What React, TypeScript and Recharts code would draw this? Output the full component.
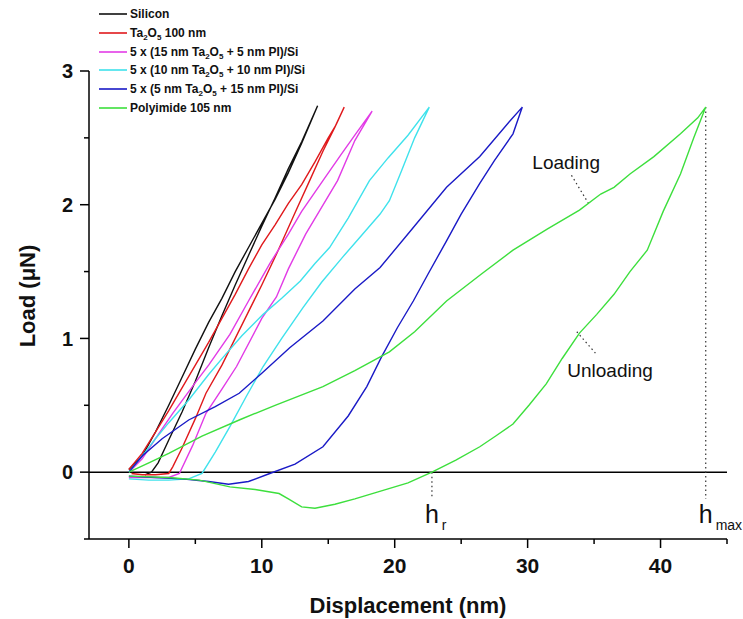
import React from "react";
import {
  LineChart,
  Line,
  XAxis,
  YAxis,
  ReferenceLine,
  ReferenceDot,
} from "recharts";

// [displacement nm, load µN]: loading branch then unloading branch
const siliconLoad = [[0,0.02],[1,0.12],[2,0.3],[3,0.5],[4,0.71],[5,0.92],[6,1.12],[7,1.3],[8,1.5],[9,1.68],[10,1.86],[11,2.04],[12,2.24],[13,2.46],[14.2,2.74]];
const siliconUnload = [[14.2,2.74],[13,2.47],[12,2.27],[11,2.05],[10,1.84],[9,1.62],[8,1.4],[7,1.17],[6,0.93],[5,0.68],[4,0.45],[3,0.24],[2.2,0.07],[1.7,0],[1.2,-0.02]];

const taLoad = [[0,0.02],[1,0.14],[2,0.3],[3,0.46],[4,0.63],[5,0.8],[6,0.97],[7,1.15],[8,1.33],[9,1.52],[10,1.7],[11,1.85],[12,2.01],[13,2.15],[14,2.32],[15,2.5],[15.6,2.6],[16.2,2.73]];
const taUnload = [[16.2,2.73],[15.5,2.58],[14.6,2.4],[13.6,2.18],[12.5,1.94],[11.1,1.63],[10,1.4],[9,1.2],[8,1],[7,0.8],[5.8,0.59],[5,0.4],[4,0.18],[3.3,0.04],[3,-0.01],[2,-0.02],[1,-0.02],[0.2,-0.01]];

const ml15Load = [[0,0],[1,0.1],[2,0.25],[3.3,0.44],[5,0.67],[6,0.8],[7.6,1.03],[9,1.28],[10.6,1.56],[12,1.78],[13,1.95],[14.6,2.18],[16,2.38],[17,2.52],[18.3,2.7]];
const ml15Unload = [[18.3,2.7],[17,2.48],[15.7,2.18],[14.5,1.98],[13.3,1.78],[12,1.52],[11.1,1.31],[10,1.15],[8.1,0.79],[7,0.62],[5.8,0.44],[4.8,0.2],[3.8,-0.01],[3,-0.04],[2,-0.04],[1,-0.04],[0,-0.04]];

const ml10Load = [[0,0],[1,0.12],[2,0.25],[3,0.37],[4.5,0.54],[6,0.73],[7.1,0.86],[8.5,1.02],[10.1,1.18],[11.5,1.3],[12.9,1.43],[14,1.56],[15.1,1.68],[16.5,1.9],[18.1,2.18],[19.5,2.35],[21,2.52],[22.6,2.73]];
const ml10Unload = [[22.6,2.73],[21.5,2.5],[20.5,2.25],[19.6,2.03],[18.9,1.93],[17.5,1.77],[16.1,1.61],[14.5,1.42],[13.1,1.23],[11.5,1],[10.1,0.79],[8.8,0.56],[7.6,0.34],[6.5,0.15],[5.5,-0.01],[4.5,-0.05],[3,-0.06],[1.5,-0.06],[0,-0.05]];

const ml5Load = [[0,0],[1,0.12],[2.5,0.25],[4.5,0.39],[6.5,0.49],[8.3,0.59],[10,0.74],[12.1,0.93],[14.6,1.13],[17,1.37],[18.9,1.53],[21.4,1.83],[23.9,2.13],[26.4,2.36],[28.7,2.63],[29.6,2.73]];
const ml5Unload = [[29.6,2.73],[28.9,2.53],[27.5,2.33],[26.4,2.16],[25,1.93],[23.9,1.73],[22.5,1.48],[21.4,1.28],[20.2,1.08],[19,0.86],[17.9,0.64],[16.5,0.42],[14.6,0.19],[12.5,0.06],[10.6,-0.01],[9,-0.07],[7.5,-0.09],[6,-0.07],[4,-0.05],[2,-0.04],[0,-0.03]];

const piLoad = [[0,0],[1.5,0.07],[3,0.14],[5.5,0.27],[8.3,0.39],[11,0.5],[14.6,0.64],[17,0.76],[19.6,0.9],[21.5,1.05],[23.9,1.28],[26.5,1.48],[28.9,1.66],[31.5,1.82],[33.9,1.96],[35.5,2.08],[36.5,2.13],[37.7,2.23],[39.5,2.36],[41.5,2.53],[42.8,2.65],[43.4,2.73]];
const piUnload = [[43.4,2.73],[42.5,2.5],[41.5,2.23],[40.2,1.95],[39,1.66],[37.7,1.5],[36.5,1.33],[35.2,1.18],[33.9,1.04],[32.6,0.85],[31.4,0.66],[30.1,0.5],[28.9,0.36],[27.6,0.27],[26.4,0.19],[24.6,0.09],[22.8,0],[21,-0.08],[19,-0.14],[17,-0.2],[15.5,-0.24],[14,-0.27],[13,-0.26],[12,-0.2],[11.3,-0.16],[9.5,-0.13],[7.6,-0.11],[5.3,-0.06],[3,-0.04],[0,-0.03]];

const xTicks = [0, 5, 10, 15, 20, 25, 30, 35, 40, 45];
const yTicks = [-0.5, 0, 0.5, 1, 1.5, 2, 2.5, 3];

const hr = 22.8;
const hmax = 43.4;

const FONT = "'Liberation Sans', Arial, sans-serif";

const toPts = (a, b) => [...a, ...b].map(([x, y]) => ({ x, y }));

const series = [
  { name: "Silicon", color: "#111111", data: toPts(siliconLoad, siliconUnload) },
  { name: "ta", color: "#e0191c", data: toPts(taLoad, taUnload) },
  { name: "ml15", color: "#e23be6", data: toPts(ml15Load, ml15Unload) },
  { name: "ml10", color: "#3fe2ec", data: toPts(ml10Load, ml10Unload) },
  { name: "ml5", color: "#1a1ac6", data: toPts(ml5Load, ml5Unload) },
  { name: "pi", color: "#3ddf3d", data: toPts(piLoad, piUnload) },
];

const Sub = ({ children }) => (
  <sub style={{ fontSize: 8, verticalAlign: "-3px", lineHeight: 0 }}>{children}</sub>
);

const legendLabels = [
  <>Silicon</>,
  <>Ta<Sub>2</Sub>O<Sub>5</Sub> 100 nm</>,
  <>5 x (15 nm Ta<Sub>2</Sub>O<Sub>5</Sub> + 5 nm PI)/Si</>,
  <>5 x (10 nm Ta<Sub>2</Sub>O<Sub>5</Sub> + 10 nm PI)/Si</>,
  <>5 x (5 nm Ta<Sub>2</Sub>O<Sub>5</Sub> + 15 nm PI)/Si</>,
  <>Polyimide 105 nm</>,
];

const XTick = ({ x, y, payload }) => {
  const major = payload.value % 10 === 0;
  return (
    <g>
      <line x1={x} x2={x} y1={y} y2={y + (major ? 9 : 5)} stroke="#000" strokeWidth={1.5} />
      {major && (
        <text x={x} y={y + 34} textAnchor="middle" fontFamily={FONT} fontWeight="bold" fontSize={21} fill="#111">
          {payload.value}
        </text>
      )}
    </g>
  );
};

const YTick = ({ x, y, payload }) => {
  const major = Number.isInteger(payload.value);
  return (
    <g>
      <line x1={x - (major ? 9 : 5)} x2={x} y1={y} y2={y} stroke="#000" strokeWidth={1.5} />
      {major && (
        <text x={x - 16} y={y} dy="0.36em" textAnchor="end" fontFamily={FONT} fontWeight="bold" fontSize={20} fill="#111">
          {payload.value}
        </text>
      )}
    </g>
  );
};

const XTitle = ({ viewBox }) => {
  const cx = viewBox ? viewBox.x + viewBox.width / 2 : 408;
  const y = viewBox ? viewBox.y + 74 : 613;
  return (
    <text x={cx} y={y} textAnchor="middle" fontFamily={FONT} fontWeight="bold" fontSize={22} fill="#111">
      Displacement (nm)
    </text>
  );
};

const YTitle = () => (
  <text x={27} y={296} transform="rotate(-90, 27, 296)" dy="0.36em" textAnchor="middle" fontFamily={FONT} fontWeight="bold" fontSize={22} fill="#111">
    Load (μN)
  </text>
);

const notes = [
  { x: 32.9, y: 2.32, text: "Loading" },
  { x: 36.2, y: 0.76, text: "Unloading" },
];

const leaders = [
  [{ x: 33.3, y: 2.22 }, { x: 34.7, y: 1.99 }],
  [{ x: 33.7, y: 1.05 }, { x: 35.1, y: 0.89 }],
  [{ x: hr, y: 0 }, { x: hr, y: -0.2 }],
  [{ x: hmax, y: 2.73 }, { x: hmax, y: -0.2 }],
];

const hLabels = [
  { x: hr, y: -0.384, sub: "r" },
  { x: hmax, y: -0.384, sub: "max" },
];

const NoteText = ({ viewBox, text }) => {
  const cx = viewBox.x + viewBox.width / 2;
  const cy = viewBox.y + viewBox.height / 2;
  return (
    <text x={cx} y={cy} dy="0.36em" textAnchor="middle" fontFamily={FONT} fontSize={19} fill="#111">
      {text}
    </text>
  );
};

const HText = ({ viewBox, sub }) => {
  const cx = viewBox.x + viewBox.width / 2;
  const cy = viewBox.y + viewBox.height / 2;
  return (
    <text x={cx - 7} y={cy} fontFamily={FONT} fontSize={25} fill="#111">
      h
      <tspan fontSize={14} dx={3} dy={7}>{sub}</tspan>
    </text>
  );
};

export default function App() {
  return (
    <div style={{ position: "absolute", left: 0, top: 0, width: 743, height: 619, background: "#fff" }}>
      <LineChart width={743} height={619} margin={{ top: 71, right: 16, left: 0, bottom: 0 }}>
        <XAxis
          type="number"
          dataKey="x"
          domain={[-3, 45]}
          ticks={xTicks}
          interval={0}
          allowDataOverflow
          height={80}
          tickSize={0}
          tickMargin={0}
          tickLine={false}
          axisLine={{ stroke: "#000", strokeWidth: 1.5 }}
          tick={<XTick />}
          label={<XTitle />}
        />
        <YAxis
          type="number"
          domain={[-0.5, 3]}
          ticks={yTicks}
          interval={0}
          allowDataOverflow
          width={89}
          tickSize={0}
          tickMargin={0}
          tickLine={false}
          axisLine={{ stroke: "#000", strokeWidth: 1.5 }}
          tick={<YTick />}
          label={<YTitle />}
        />
        <ReferenceLine y={0} stroke="#000" strokeWidth={1.5} />
        {leaders.map((seg, i) => (
          <ReferenceLine key={"l" + i} segment={seg} stroke="#333" strokeWidth={1.2} strokeDasharray="1.5 3" />
        ))}
        {series.map((s) => (
          <Line
            key={s.name}
            data={s.data}
            dataKey="y"
            type="linear"
            stroke={s.color}
            strokeWidth={1.4}
            dot={false}
            isAnimationActive={false}
          />
        ))}
        {notes.map((n) => (
          <ReferenceDot key={n.text} x={n.x} y={n.y} r={1} fill="none" stroke="none" label={<NoteText text={n.text} />} />
        ))}
        {hLabels.map((h) => (
          <ReferenceDot key={h.sub} x={h.x} y={h.y} r={1} fill="none" stroke="none" label={<HText sub={h.sub} />} />
        ))}
      </LineChart>
      <div style={{ position: "absolute", left: 99, top: 4.6, fontFamily: FONT, fontWeight: "bold", fontSize: 12, color: "#111" }}>
        {series.map((s, i) => (
          <div key={s.name} style={{ display: "flex", alignItems: "center", height: 18.8, whiteSpace: "nowrap" }}>
            <svg width={31} height={4} style={{ flexShrink: 0, display: "block" }}>
              <line x1={0} x2={28} y1={2} y2={2} stroke={s.color} strokeWidth={1.6} />
            </svg>
            <span>{legendLabels[i]}</span>
          </div>
        ))}
      </div>
    </div>
  );
}
